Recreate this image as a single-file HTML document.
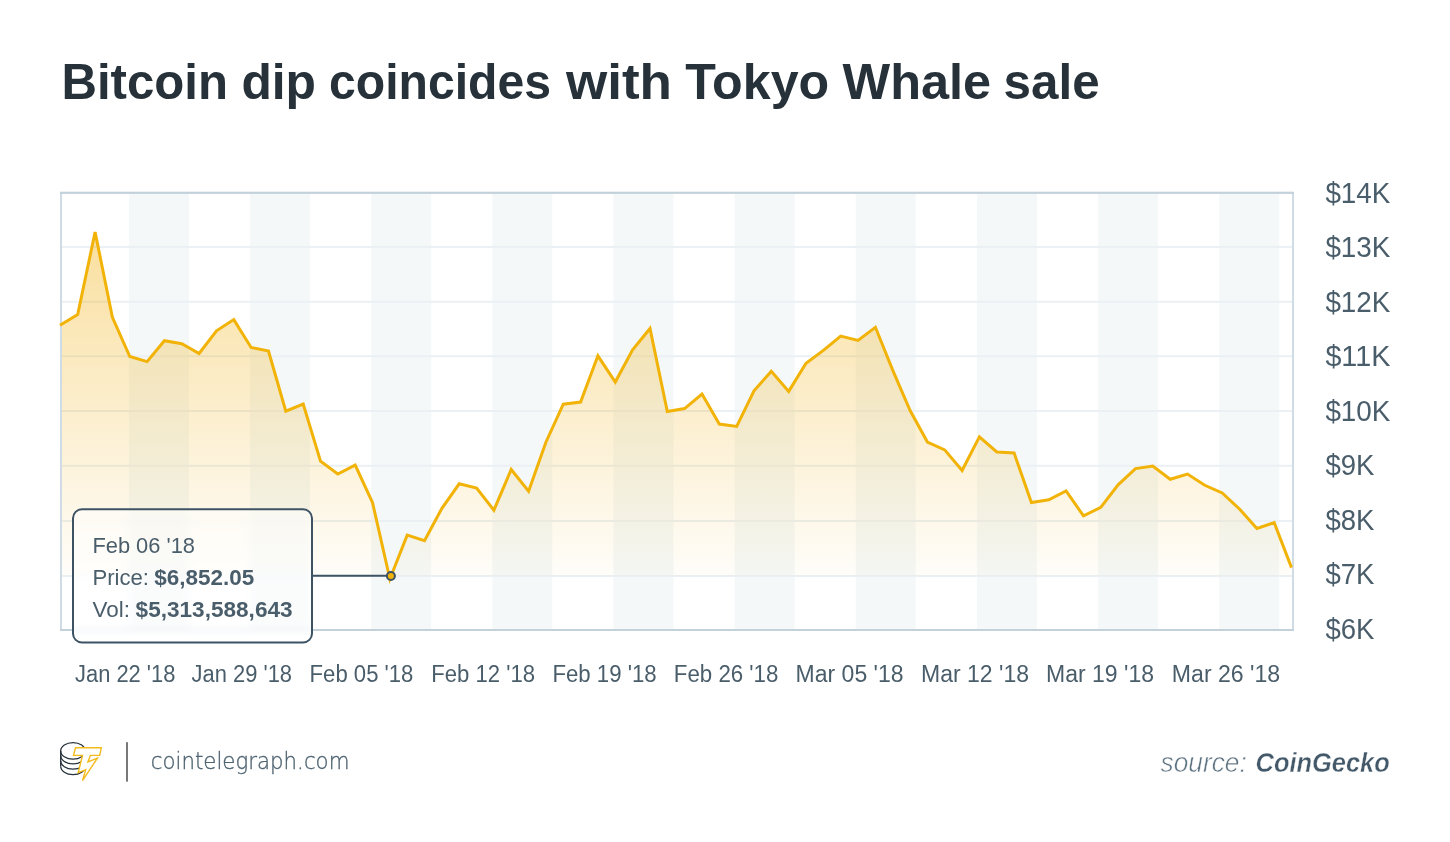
<!DOCTYPE html>
<html><head><meta charset="utf-8"><title>Bitcoin dip coincides with Tokyo Whale sale</title>
<style>
html,body{margin:0;padding:0;background:#fff;width:1450px;height:842px;overflow:hidden;}
svg{display:block;}
</style></head>
<body>
<svg width="1450" height="842" viewBox="0 0 1450 842" font-family="Liberation Sans, sans-serif">
<defs>
<linearGradient id="gfill" x1="0" y1="0" x2="0" y2="1">
<stop offset="0" stop-color="#f0aa00" stop-opacity="0.38"/>
<stop offset="1" stop-color="#f0aa00" stop-opacity="0.02"/>
</linearGradient>
<clipPath id="ttclip"><rect x="73" y="509.2" width="239" height="133.3" rx="9" ry="9"/></clipPath>
<filter id="blur" x="-10%" y="-10%" width="120%" height="120%"><feGaussianBlur stdDeviation="3"/></filter>
</defs>
<rect width="1450" height="842" fill="#fff"/>
<g id="chart">
<rect x="61" y="193" width="1232" height="437" fill="#fff"/>
<rect x="128.9" y="193" width="60" height="437" fill="#f4f8f9"/>
<rect x="250.0" y="193" width="60" height="437" fill="#f4f8f9"/>
<rect x="371.2" y="193" width="60" height="437" fill="#f4f8f9"/>
<rect x="492.3" y="193" width="60" height="437" fill="#f4f8f9"/>
<rect x="613.5" y="193" width="60" height="437" fill="#f4f8f9"/>
<rect x="734.6" y="193" width="60" height="437" fill="#f4f8f9"/>
<rect x="855.7" y="193" width="60" height="437" fill="#f4f8f9"/>
<rect x="976.9" y="193" width="60" height="437" fill="#f4f8f9"/>
<rect x="1098.0" y="193" width="60" height="437" fill="#f4f8f9"/>
<rect x="1219.2" y="193" width="60" height="437" fill="#f4f8f9"/>
<rect x="61" y="245.9" width="1232" height="2" fill="#eaf0f4"/>
<rect x="61" y="300.8" width="1232" height="2" fill="#eaf0f4"/>
<rect x="61" y="355.2" width="1232" height="2" fill="#eaf0f4"/>
<rect x="61" y="410.0" width="1232" height="2" fill="#eaf0f4"/>
<rect x="61" y="464.8" width="1232" height="2" fill="#eaf0f4"/>
<rect x="61" y="520.0" width="1232" height="2" fill="#eaf0f4"/>
<rect x="61" y="575.0" width="1232" height="2" fill="#eaf0f4"/>
<path d="M60.0,325.2 L77.7,314.5 L95.1,232.0 L112.4,317.3 L129.8,356.5 L147.1,361.6 L164.4,340.7 L181.8,343.8 L199.1,353.5 L216.5,330.8 L233.8,319.6 L251.1,347.5 L268.5,351.0 L285.8,411.2 L303.2,404.1 L320.5,461.1 L337.8,474.0 L355.2,465.1 L372.5,502.5 L389.9,579.0 L407.2,535.1 L424.5,540.6 L441.9,508.3 L459.2,483.8 L476.6,488.1 L493.9,510.2 L511.2,469.5 L528.6,491.2 L545.9,442.2 L563.3,404.2 L580.6,402.1 L597.9,355.8 L615.3,382.0 L632.6,349.9 L650.0,328.5 L667.3,411.6 L684.6,408.6 L702.0,394.1 L719.3,424.0 L736.7,426.4 L754.0,390.8 L771.3,371.3 L788.7,391.4 L806.0,363.2 L823.4,350.4 L840.7,336.1 L858.0,340.4 L875.4,327.3 L892.7,370.1 L910.1,410.5 L927.4,442.0 L944.7,449.9 L962.1,470.5 L979.4,436.8 L996.8,452.0 L1014.1,453.0 L1031.4,502.6 L1048.8,499.8 L1066.1,491.0 L1083.5,515.9 L1100.8,507.4 L1118.1,484.8 L1135.5,468.6 L1152.8,466.1 L1170.2,479.3 L1187.5,474.1 L1204.8,485.3 L1222.2,493.0 L1239.5,509.0 L1256.9,528.4 L1274.2,522.7 L1291.5,567.6 L1291.5,576 L60.0,576 Z" fill="url(#gfill)"/>
<rect x="60" y="192" width="2" height="439" fill="#d0dce5"/>
<rect x="1292" y="192" width="2" height="439" fill="#d0dce5"/>
<rect x="60" y="191.7" width="1234" height="2.2" fill="#c3d1db"/>
<rect x="60" y="629" width="1234" height="2" fill="#c3d1db"/>
<path d="M60.0,325.2 L77.7,314.5 L95.1,232.0 L112.4,317.3 L129.8,356.5 L147.1,361.6 L164.4,340.7 L181.8,343.8 L199.1,353.5 L216.5,330.8 L233.8,319.6 L251.1,347.5 L268.5,351.0 L285.8,411.2 L303.2,404.1 L320.5,461.1 L337.8,474.0 L355.2,465.1 L372.5,502.5 L389.9,579.0 L407.2,535.1 L424.5,540.6 L441.9,508.3 L459.2,483.8 L476.6,488.1 L493.9,510.2 L511.2,469.5 L528.6,491.2 L545.9,442.2 L563.3,404.2 L580.6,402.1 L597.9,355.8 L615.3,382.0 L632.6,349.9 L650.0,328.5 L667.3,411.6 L684.6,408.6 L702.0,394.1 L719.3,424.0 L736.7,426.4 L754.0,390.8 L771.3,371.3 L788.7,391.4 L806.0,363.2 L823.4,350.4 L840.7,336.1 L858.0,340.4 L875.4,327.3 L892.7,370.1 L910.1,410.5 L927.4,442.0 L944.7,449.9 L962.1,470.5 L979.4,436.8 L996.8,452.0 L1014.1,453.0 L1031.4,502.6 L1048.8,499.8 L1066.1,491.0 L1083.5,515.9 L1100.8,507.4 L1118.1,484.8 L1135.5,468.6 L1152.8,466.1 L1170.2,479.3 L1187.5,474.1 L1204.8,485.3 L1222.2,493.0 L1239.5,509.0 L1256.9,528.4 L1274.2,522.7 L1291.5,567.6" fill="none" stroke="#f2b309" stroke-width="3"/>
</g>
<g clip-path="url(#ttclip)">
<rect x="60" y="500" width="260" height="150" fill="#fff"/>
<g filter="url(#blur)"><use href="#chart"/></g>
<rect x="60" y="500" width="260" height="150" fill="#fff" fill-opacity="0.5"/>
</g>
<text y="99" font-size="50" font-weight="bold" fill="#263139"><tspan x="61.4" textLength="166.6" lengthAdjust="spacingAndGlyphs">Bitcoin</tspan> <tspan x="241.4" textLength="74.6" lengthAdjust="spacingAndGlyphs">dip</tspan> <tspan x="329.0" textLength="222.0" lengthAdjust="spacingAndGlyphs">coincides</tspan> <tspan x="566.0" textLength="106.0" lengthAdjust="spacingAndGlyphs">with</tspan> <tspan x="685.2" textLength="144.0" lengthAdjust="spacingAndGlyphs">Tokyo</tspan> <tspan x="842.6" textLength="148.6" lengthAdjust="spacingAndGlyphs">Whale</tspan> <tspan x="1003.6" textLength="96.0" lengthAdjust="spacingAndGlyphs">sale</tspan></text>
<text x="1325.4" y="202.6" font-size="28.6" fill="#4a5d6a" textLength="65.0" lengthAdjust="spacingAndGlyphs">$14K</text>
<text x="1325.4" y="257.1" font-size="28.6" fill="#4a5d6a" textLength="65.0" lengthAdjust="spacingAndGlyphs">$13K</text>
<text x="1325.4" y="311.6" font-size="28.6" fill="#4a5d6a" textLength="65.0" lengthAdjust="spacingAndGlyphs">$12K</text>
<text x="1325.4" y="366.1" font-size="28.6" fill="#4a5d6a" textLength="65.0" lengthAdjust="spacingAndGlyphs">$11K</text>
<text x="1325.4" y="420.6" font-size="28.6" fill="#4a5d6a" textLength="65.0" lengthAdjust="spacingAndGlyphs">$10K</text>
<text x="1325.4" y="475.1" font-size="28.6" fill="#4a5d6a" textLength="49.0" lengthAdjust="spacingAndGlyphs">$9K</text>
<text x="1325.4" y="529.6" font-size="28.6" fill="#4a5d6a" textLength="49.0" lengthAdjust="spacingAndGlyphs">$8K</text>
<text x="1325.4" y="584.1" font-size="28.6" fill="#4a5d6a" textLength="49.0" lengthAdjust="spacingAndGlyphs">$7K</text>
<text x="1325.4" y="638.6" font-size="28.6" fill="#4a5d6a" textLength="49.0" lengthAdjust="spacingAndGlyphs">$6K</text>
<text x="75.0" y="682.0" font-size="23.0" fill="#4a5d6a" textLength="100.4" lengthAdjust="spacingAndGlyphs">Jan 22 &#x27;18</text>
<text x="191.6" y="682.0" font-size="23.0" fill="#4a5d6a" textLength="100.4" lengthAdjust="spacingAndGlyphs">Jan 29 &#x27;18</text>
<text x="309.6" y="682.0" font-size="23.0" fill="#4a5d6a" textLength="103.8" lengthAdjust="spacingAndGlyphs">Feb 05 &#x27;18</text>
<text x="431.2" y="682.0" font-size="23.0" fill="#4a5d6a" textLength="103.8" lengthAdjust="spacingAndGlyphs">Feb 12 &#x27;18</text>
<text x="552.4" y="682.0" font-size="23.0" fill="#4a5d6a" textLength="104.2" lengthAdjust="spacingAndGlyphs">Feb 19 &#x27;18</text>
<text x="673.8" y="682.0" font-size="23.0" fill="#4a5d6a" textLength="104.6" lengthAdjust="spacingAndGlyphs">Feb 26 &#x27;18</text>
<text x="795.6" y="682.0" font-size="23.0" fill="#4a5d6a" textLength="108.0" lengthAdjust="spacingAndGlyphs">Mar 05 &#x27;18</text>
<text x="921.0" y="682.0" font-size="23.0" fill="#4a5d6a" textLength="108.0" lengthAdjust="spacingAndGlyphs">Mar 12 &#x27;18</text>
<text x="1046.0" y="682.0" font-size="23.0" fill="#4a5d6a" textLength="108.0" lengthAdjust="spacingAndGlyphs">Mar 19 &#x27;18</text>
<text x="1171.8" y="682.0" font-size="23.0" fill="#4a5d6a" textLength="108.4" lengthAdjust="spacingAndGlyphs">Mar 26 &#x27;18</text>
<text x="92.4" y="552.8" font-size="22.7" fill="#4a5d6a" textLength="102.6" lengthAdjust="spacingAndGlyphs">Feb 06 &#x27;18</text>
<text x="92.4" y="584.8" font-size="22.7" fill="#4a5d6a" textLength="56.6" lengthAdjust="spacingAndGlyphs">Price:</text>
<text x="154.2" y="584.8" font-size="22.7" font-weight="bold" fill="#4a5d6a" textLength="100.0" lengthAdjust="spacingAndGlyphs">$6,852.05</text>
<text x="92.6" y="617.0" font-size="22.7" fill="#4a5d6a" textLength="37.4" lengthAdjust="spacingAndGlyphs">Vol:</text>
<text x="135.6" y="617.0" font-size="22.7" font-weight="bold" fill="#4a5d6a" textLength="157.0" lengthAdjust="spacingAndGlyphs">$5,313,588,643</text>
<text x="150.8" y="768.6" font-size="23.4" font-weight="200" font-family="DejaVu Sans, sans-serif" stroke="#4f6472" stroke-width="0.35" fill="#4f6472" textLength="198.6" lengthAdjust="spacingAndGlyphs">cointelegraph.com</text>
<text x="1160.6" y="771.9" font-size="28.5" font-style="italic" stroke="#fff" stroke-width="0.6" fill="#5d7280" textLength="86.2" lengthAdjust="spacingAndGlyphs">source:</text>
<text x="1255.6" y="771.9" font-size="28.5" font-weight="bold" font-style="italic" stroke="#fff" stroke-width="0.4" fill="#43596a" textLength="134.2" lengthAdjust="spacingAndGlyphs">CoinGecko</text>
<rect x="73" y="509.2" width="239" height="133.3" rx="9" ry="9" fill="none" stroke="#3d5364" stroke-width="2"/>
<line x1="313" y1="575.8" x2="387" y2="575.8" stroke="#3d5364" stroke-width="2"/>
<circle cx="390.9" cy="576" r="4" fill="#f2b309" stroke="#3d5364" stroke-width="2"/>
<g fill="none" stroke="#27313a" stroke-width="1.3">
<ellipse cx="73" cy="750.9" rx="12.3" ry="8.3"/>
<path d="M60.7,750.9 V766.3"/>
<path d="M60.7,755.6 A12.3,8.3 0 0 0 85.3,755.6"/>
<path d="M60.7,760.9 A12.3,8.3 0 0 0 85.3,760.9"/>
<path d="M60.7,766.3 A12.3,8.3 0 0 0 85.3,766.3"/>
</g>
<path d="M75.5,747.7 L101.3,747.7 L99.7,755.4 L90.4,755.4 L87.9,761.9 L97.4,758.2 L82.5,780.6 L85.7,769.7 L78.2,772.7 L82.5,755.4 L73.5,755.4 Z" fill="#fff" stroke="#f4bb1c" stroke-width="1.4" stroke-linejoin="miter"/>
<rect x="126" y="742.2" width="2" height="39.4" fill="#787878"/>
</svg>
</body></html>
